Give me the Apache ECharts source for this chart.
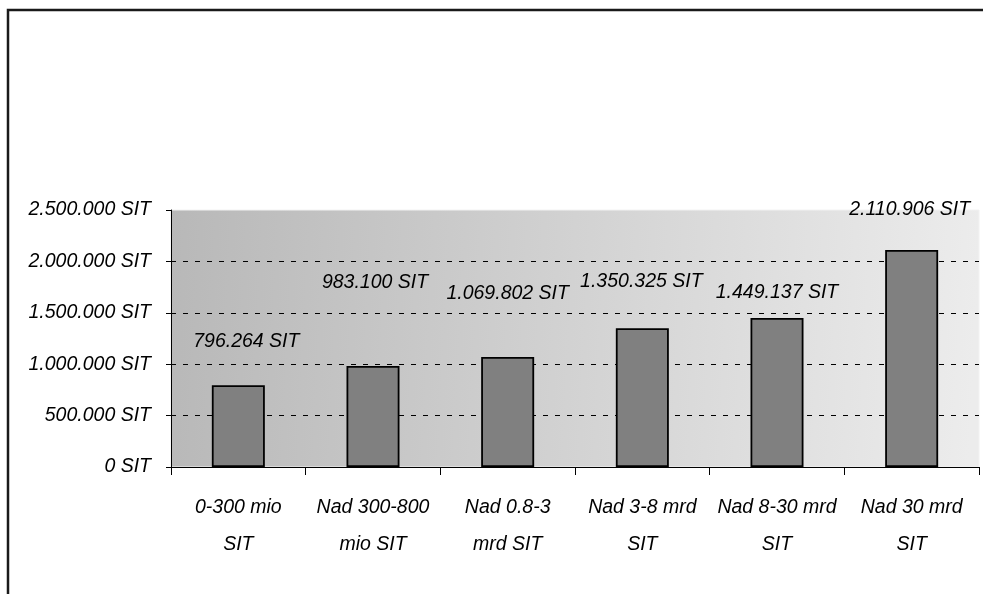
<!DOCTYPE html>
<html>
<head>
<meta charset="utf-8">
<script src="https://cdn.jsdelivr.net/npm/echarts@6/dist/echarts.min.js"></script>
<style>
html,body{margin:0;padding:0;background:#fff;}
#chart{width:983px;height:594px;}
</style>
</head>
<body>
<div id="chart"></div>
<script>
const categories = ['0-300 mio\nSIT', 'Nad 300-800\nmio SIT', 'Nad 0.8-3\nmrd SIT', 'Nad 3-8 mrd\nSIT', 'Nad 8-30 mrd\nSIT', 'Nad 30 mrd\nSIT'];
const values = [796264, 983100, 1069802, 1350325, 1449137, 2110906];
const yTicks = [0, 500000, 1000000, 1500000, 2000000, 2500000];
// label placement tweaks (style only)
const labelOffsets = [[8, -34], [2, -74], [0, -54], [-1, -37], [0, -16], [-2, -31]];

const FONT = "'Liberation Sans', Arial, sans-serif";
const FS = 19.5;
function fmt(v) {
  return String(Math.round(v)).replace(/\B(?=(\d{3})+(?!\d))/g, '.') + ' SIT';
}

const chart = echarts.init(document.getElementById('chart'), null, {renderer: 'canvas'});
chart.setOption({
  animation: false,
  backgroundColor: '#ffffff',
  graphic: [{
    type: 'rect',
    shape: {x: 8, y: 10, width: 1000, height: 620},
    style: {fill: 'none', stroke: '#1a1a1a', lineWidth: 2.5},
    z: 0
  }],
  grid: {
    left: 171, top: 210, right: 4, bottom: 127,
    show: true,
    borderColor: '#f2f2f2', borderWidth: 1,
    backgroundColor: new echarts.graphic.LinearGradient(0, 0, 1, 0.15, [
      {offset: 0, color: '#b8b8b8'},
      {offset: 1, color: '#ececec'}
    ])
  },
  xAxis: {
    type: 'category',
    data: categories,
    boundaryGap: true,
    axisLine: {show: true, lineStyle: {color: '#000', width: 1}},
    axisTick: {show: true, length: 8, alignWithLabel: false, lineStyle: {color: '#000'}},
    axisLabel: {
      interval: 0, margin: 22,
      fontFamily: FONT, fontStyle: 'italic', fontSize: FS, lineHeight: 37,
      color: '#000', align: 'center'
    },
    splitLine: {show: false}
  },
  yAxis: {
    type: 'value',
    min: 0, max: 2500000, interval: 500000,
    axisLine: {show: true, lineStyle: {color: '#000', width: 1}},
    axisTick: {show: true, length: 5, lineStyle: {color: '#000'}},
    axisLabel: {
      margin: 20, formatter: fmt,
      fontFamily: FONT, fontStyle: 'italic', fontSize: FS, color: '#000',
      customValues: yTicks
    },
    splitLine: {show: true, showMinLine: false, showMaxLine: false,
      lineStyle: {color: '#000', type: [5, 7], width: 1}}
  },
  series: [{
    type: 'bar',
    barWidth: 53,
    data: values.map((v, i) => ({
      value: v,
      label: {offset: labelOffsets[i]}
    })),
    itemStyle: {color: '#808080', borderColor: '#000', borderWidth: 1.8},
    label: {
      show: true, position: 'top', distance: 0,
      formatter: p => fmt(p.value),
      fontFamily: FONT, fontStyle: 'italic', fontSize: FS, lineHeight: FS, color: '#000'
    }
  }]
});
</script>
</body>
</html>
